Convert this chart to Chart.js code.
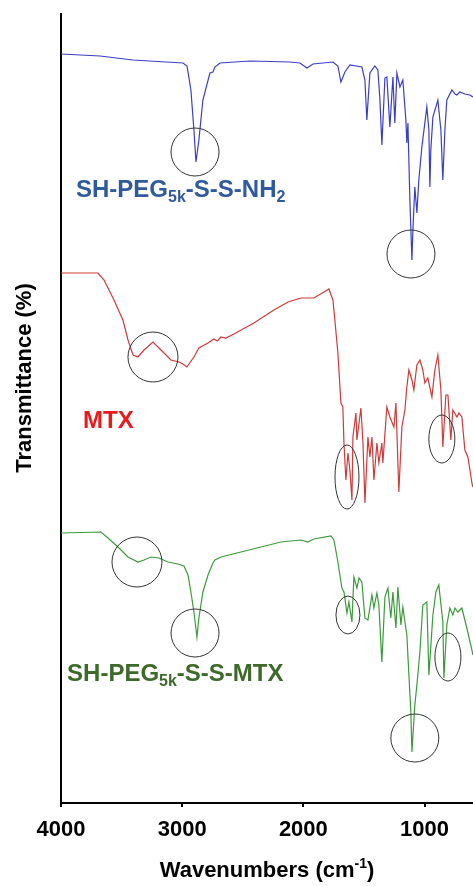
<!DOCTYPE html>
<html>
<head>
<meta charset="utf-8">
<script src="https://cdn.jsdelivr.net/npm/chart.js@4"></script>
<style>
  html, body { margin: 0; padding: 0; background: #fff; }
  #wrap { width: 473px; height: 886px; }
</style>
</head>
<body>
<div id="wrap"><canvas id="ftirChart" width="473" height="886"></canvas></div>
<script>
// tick labels on the wavenumber axis
const xTicks = [4000, 3000, 2000, 1000];

// SH-PEG5k-S-S-NH2 (blue, top)
const pegNh2Wn = [4000, 3678, 3406, 2994, 2960, 2928, 2903, 2886, 2862, 2829, 2771, 2746, 2730, 2688, 2441, 2111, 2028, 1970, 1921, 1756, 1715, 1690, 1657, 1616, 1517, 1492, 1476, 1451, 1410, 1385, 1368, 1352, 1327, 1311, 1286, 1261, 1245, 1228, 1203, 1179, 1154, 1146, 1137, 1121, 1104, 1096, 1080, 1063, 1047, 1022, 981, 964, 956, 948, 931, 890, 865, 849, 832, 816, 774, 749, 733, 708, 667, 626, 601];
const pegNh2T = [749, 747, 743, 740, 737, 713, 673, 641, 663, 703, 730, 731, 736, 740, 742, 741, 740, 735, 739, 741, 737, 721, 731, 738, 736, 723, 683, 730, 737, 733, 703, 658, 725, 726, 676, 726, 680, 730, 716, 723, 683, 660, 680, 603, 543, 573, 616, 590, 623, 656, 696, 673, 616, 653, 686, 703, 673, 623, 673, 703, 713, 709, 708, 711, 709, 708, 706];

// MTX (red, middle)
const mtxWn = [4000, 3695, 3645, 3563, 3489, 3447, 3406, 3365, 3315, 3241, 3175, 3093, 3027, 2994, 2961, 2903, 2862, 2787, 2738, 2710, 2680, 2640, 2573, 2408, 2243, 2127, 2020, 1913, 1830, 1789, 1756, 1740, 1715, 1690, 1674, 1665, 1649, 1632, 1616, 1599, 1591, 1566, 1558, 1525, 1508, 1492, 1467, 1451, 1434, 1418, 1393, 1377, 1352, 1344, 1311, 1286, 1253, 1236, 1212, 1187, 1162, 1146, 1129, 1104, 1088, 1063, 1038, 1014, 997, 973, 939, 915, 890, 865, 849, 824, 807, 783, 766, 733, 716, 692, 667, 642, 609, 601];
const mtxT = [530, 530, 523, 503, 483, 463, 448, 446, 453, 461, 453, 443, 441, 439, 436, 446, 455, 460, 464, 462, 466, 465, 469, 480, 493, 501, 505, 505, 511, 514, 503, 483, 450, 400, 396, 360, 323, 350, 333, 303, 366, 390, 363, 395, 360, 300, 366, 346, 366, 323, 360, 340, 360, 340, 396, 386, 376, 400, 311, 376, 393, 416, 433, 423, 413, 438, 443, 433, 420, 425, 406, 433, 448, 413, 356, 408, 408, 363, 393, 386, 390, 386, 353, 346, 320, 316];

// SH-PEG5k-S-S-MTX (green, bottom)
const pegMtxWn = [4000, 3670, 3612, 3530, 3447, 3365, 3315, 3258, 3192, 3117, 3035, 2985, 2952, 2928, 2903, 2878, 2862, 2829, 2787, 2746, 2730, 2680, 2515, 2350, 2185, 2020, 1962, 1913, 1772, 1748, 1740, 1715, 1682, 1665, 1640, 1624, 1599, 1583, 1558, 1541, 1517, 1492, 1467, 1434, 1418, 1393, 1377, 1352, 1327, 1302, 1278, 1261, 1236, 1220, 1195, 1179, 1146, 1129, 1113, 1104, 1080, 1063, 1038, 1014, 981, 964, 931, 906, 882, 849, 840, 816, 791, 766, 749, 725, 692, 651, 609, 601];
const pegMtxT = [270, 271, 265, 256, 246, 241, 243, 246, 245, 241, 239, 237, 228, 211, 191, 166, 185, 211, 228, 240, 243, 246, 251, 256, 261, 263, 261, 264, 267, 263, 258, 241, 215, 211, 190, 201, 181, 226, 215, 225, 221, 185, 183, 208, 195, 210, 198, 141, 206, 215, 185, 211, 175, 216, 178, 196, 168, 128, 91, 51, 98, 118, 151, 198, 201, 128, 188, 211, 218, 181, 125, 178, 195, 188, 195, 191, 195, 175, 153, 148];

// circled bands: [wavenumber, transmittance, rx, ry]
const marks = [
    [2894, 651, 24, 24], [1112, 549, 24, 24],
    [3241, 446, 25, 25], [1640, 326, 12, 32], [857, 364, 13, 24],
    [3373, 241, 25, 25], [2894, 170, 24, 24], [1632, 188, 12, 19], [1080, 65, 24, 24], [807, 146, 13, 24]
];

// trace names: [main, subscript, rest, subscript, wavenumber, transmittance, colour]
const traceLabels = [
    ['SH-PEG', '5k', '-S-S-NH', '2', 3876, 606, '#2f5a9e'],
    ['MTX', '', '', '', 3818, 375, '#ea1a1a'],
    ['SH-PEG', '5k', '-S-S-MTX', '', 3950, 122, '#3d6a2b']
];

const FONT = '"Liberation Sans", Arial, sans-serif';

function toPoints(wn, t) {
    return wn.map((w, i) => ({ x: w, y: t[i] }));
}

// ellipses, trace names and axis titles
const extrasPlugin = {
    id: 'extras',
    afterDatasetsDraw(chart) {
        const ctx = chart.ctx;
        const xs = chart.scales.x;
        const ys = chart.scales.y;
        ctx.save();

        ctx.strokeStyle = '#333';
        ctx.lineWidth = 1;
        marks.forEach(m => {
            ctx.beginPath();
            ctx.ellipse(xs.getPixelForValue(m[0]), ys.getPixelForValue(m[1]), m[2], m[3], 0, 0, Math.PI * 2);
            ctx.stroke();
        });

        ctx.textBaseline = 'alphabetic';
        ctx.textAlign = 'left';
        traceLabels.forEach(l => {
            let x = xs.getPixelForValue(l[4]);
            const y = ys.getPixelForValue(l[5]);
            ctx.fillStyle = l[6];
            ctx.font = 'bold 24px ' + FONT;
            ctx.fillText(l[0], x, y);
            x += ctx.measureText(l[0]).width;
            if (l[1]) {
                ctx.font = 'bold 16px ' + FONT;
                ctx.fillText(l[1], x, y + 5);
                x += ctx.measureText(l[1]).width;
            }
            if (l[2]) {
                ctx.font = 'bold 24px ' + FONT;
                ctx.fillText(l[2], x, y);
                x += ctx.measureText(l[2]).width;
            }
            if (l[3]) {
                ctx.font = 'bold 16px ' + FONT;
                ctx.fillText(l[3], x, y + 5);
            }
        });

        // x title with superscript
        ctx.fillStyle = '#000';
        const main = 'Wavenumbers (cm';
        const sup = '-1';
        const end = ')';
        ctx.font = 'bold 22px ' + FONT;
        const w1 = ctx.measureText(main).width;
        const w3 = ctx.measureText(end).width;
        ctx.font = 'bold 14px ' + FONT;
        const w2 = ctx.measureText(sup).width;
        let tx = 267 - (w1 + w2 + w3) / 2;
        const ty = 877;
        ctx.font = 'bold 22px ' + FONT;
        ctx.fillText(main, tx, ty);
        tx += w1;
        ctx.font = 'bold 14px ' + FONT;
        ctx.fillText(sup, tx, ty - 9);
        tx += w2;
        ctx.font = 'bold 22px ' + FONT;
        ctx.fillText(end, tx, ty);

        // y title
        ctx.translate(25, 378);
        ctx.rotate(-Math.PI / 2);
        ctx.textAlign = 'center';
        ctx.textBaseline = 'middle';
        ctx.fillText('Transmittance (%)', 0, 0);
        ctx.restore();
    }
};

const ctx = document.getElementById('ftirChart').getContext('2d');
new Chart(ctx, {
    type: 'line',
    data: {
        datasets: [
            { label: 'SH-PEG5k-S-S-NH2', data: toPoints(pegNh2Wn, pegNh2T), borderColor: '#3a3fc4' },
            { label: 'MTX', data: toPoints(mtxWn, mtxT), borderColor: '#cf3a3a' },
            { label: 'SH-PEG5k-S-S-MTX', data: toPoints(pegMtxWn, pegMtxT), borderColor: '#3c9a3c' }
        ]
    },
    options: {
        responsive: false,
        animation: false,
        layout: { padding: { top: 14, right: 0, left: 0, bottom: 0 } },
        elements: {
            line: { borderWidth: 1.2, tension: 0 },
            point: { radius: 0 }
        },
        plugins: {
            legend: { display: false },
            tooltip: { enabled: false }
        },
        scales: {
            x: {
                type: 'linear',
                reverse: true,
                min: 600,
                max: 4000,
                afterBuildTicks: scale => { scale.ticks = xTicks.map(v => ({ value: v })); },
                afterFit: scale => { scale.height = 83; },
                grid: { display: true, drawOnChartArea: false, drawTicks: true, tickLength: 4, color: '#000', lineWidth: 2 },
                border: { display: true, color: '#000', width: 2 },
                ticks: {
                    color: '#000',
                    padding: 10,
                    maxRotation: 0,
                    callback: v => String(v),
                    font: { family: FONT, size: 22, weight: 'bold' }
                }
            },
            y: {
                min: 0,
                max: 789,
                afterFit: scale => { scale.width = 61; },
                grid: { display: false },
                border: { display: true, color: '#000', width: 2 },
                ticks: { display: false }
            }
        }
    },
    plugins: [extrasPlugin]
});
</script>
</body>
</html>
